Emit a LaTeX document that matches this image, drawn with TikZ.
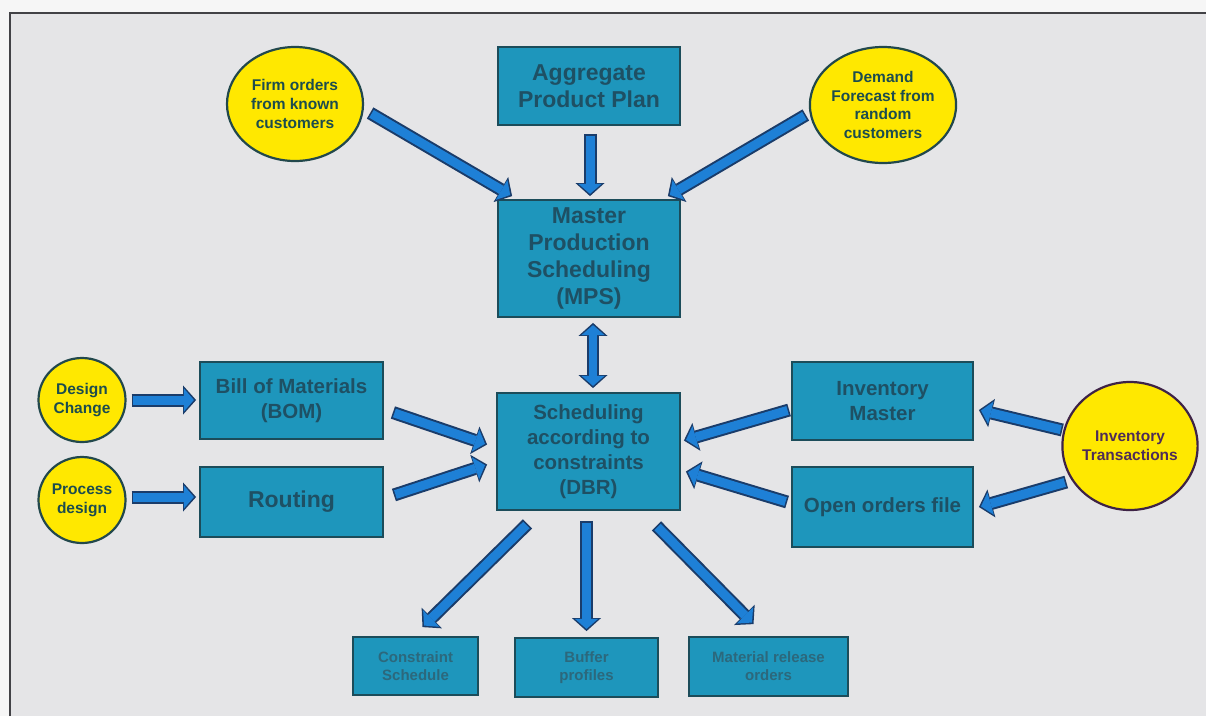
\documentclass[tikz,border=0pt]{standalone}
\usepackage{fontspec}
\setmainfont{Liberation Sans}
\usetikzlibrary{arrows.meta,calc,shapes.geometric}

\definecolor{pagebg}{RGB}{246,246,246}
\definecolor{panelbg}{RGB}{229,229,231}
\definecolor{framec}{RGB}{66,66,70}
\definecolor{boxfill}{RGB}{30,150,188}
\definecolor{boxedge}{RGB}{28,76,90}
\definecolor{boxtext}{RGB}{30,80,100}
\definecolor{smalltext}{RGB}{44,104,124}
\definecolor{discfill}{RGB}{255,232,0}
\definecolor{discedge}{RGB}{34,72,76}
\definecolor{disctext}{RGB}{28,76,78}
\definecolor{invtext}{RGB}{78,44,88}
\definecolor{arrowfill}{RGB}{30,128,214}
\definecolor{arrowedge}{RGB}{26,60,106}

\tikzset{
  OutTip/.tip={Triangle[length=13pt,width=29pt,line width=0pt 0 0]},
  InTip/.tip={Triangle[length=10pt,width=23pt,line width=0pt 0 0]},
  box/.style={rectangle, draw=boxedge, line width=1.8pt, fill=boxfill,
    align=center, text=boxtext, inner sep=0pt,
    font=\bfseries\fontsize{23}{27}\selectfont},
  midbox/.style={box, font=\bfseries\fontsize{20.5}{25}\selectfont},
  smallbox/.style={box, text=smalltext, font=\bfseries\fontsize{15}{18}\selectfont},
  disc/.style={ellipse, draw=discedge, line width=2.2pt, fill=discfill,
    align=center, text=disctext, inner sep=0pt,
    font=\bfseries\fontsize{15.5}{18.7}\selectfont},
  fat/.style={draw=arrowfill, line width=9pt, line cap=butt, -{InTip},
    shorten <=1.6pt, shorten >=2.2pt,
    preaction={draw=arrowedge, line width=13pt, -{OutTip},
      shorten <=0pt, shorten >=0pt}},
  fatboth/.style={draw=arrowfill, line width=8pt, line cap=butt, {InTip}-{InTip},
    shorten <=2.2pt, shorten >=2.2pt,
    preaction={draw=arrowedge, line width=12pt, {OutTip}-{OutTip},
      shorten <=0pt, shorten >=0pt}}
}

\begin{document}
\begin{tikzpicture}[x=1pt,y=-1pt]
  \useasboundingbox (0,0) rectangle (1206,716);
  % page and framed panel
  \fill[pagebg] (0,0) rectangle (1206,716);
  \fill[panelbg] (10,13) rectangle (1206,716);
  \draw[framec, line width=2pt] (10,716) -- (10,13) -- (1206,13);

  % planning inputs
  \node[disc, minimum width=136pt, minimum height=114pt] (firm) at (295,104)
    {Firm orders\\from known\\customers};
  \node[disc, minimum width=137pt, minimum height=116pt] (demand) at (883,105)
    {Demand\\Forecast from\\random\\customers};
  \node[box, minimum width=182pt, minimum height=78pt] (app) at (589,86)
    {Aggregate\\Product Plan};
  \node[box, minimum width=182pt, minimum height=117pt] (mps) at (589,258.5)
    {Master\\Production\\Scheduling\\(MPS)};

  % scheduling core
  \node[midbox, minimum width=183pt, minimum height=117pt] (dbr) at (588.5,451.5)
    {Scheduling\\according to\\constraints\\(DBR)};

  % left side
  \node[disc, minimum width=87pt, minimum height=84pt] (design) at (82,400)
    {Design\\Change};
  \node[disc, minimum width=87pt, minimum height=86pt] (process) at (82,500)
    {Process\\design};
  \node[midbox, minimum width=183pt, minimum height=77pt] (bom) at (291.5,400.5)
    {Bill of Materials\\(BOM)};
  \node[box, minimum width=183pt, minimum height=70pt] (rout) at (291.5,502)
    {Routing};

  % right side
  \node[midbox, minimum width=181pt, minimum height=78pt] (invm) at (882.5,401)
    {Inventory\\Master};
  \node[midbox, minimum width=181pt, minimum height=80pt] (open) at (882.5,507)
    {Open orders file};
  \node[disc, text=invtext, draw=invtext!80!black, minimum width=126pt, minimum height=128pt] (invt) at (1130,446)
    {Inventory\\Transactions};

  % outputs
  \node[smallbox, minimum width=125pt, minimum height=58pt] (cs) at (415.5,666)
    {Constraint\\Schedule};
  \node[smallbox, minimum width=143pt, minimum height=59pt] (buf) at (586.5,667.5)
    {Buffer\\profiles};
  \node[smallbox, minimum width=159pt, minimum height=59pt] (mro) at (768.5,666.5)
    {Material release\\orders};

  % flows into MPS
  \draw[fat] ($(firm.east)+(6,9)$) -- ($(mps.north west)+(15,-3)$);
  \draw[fat] ($(demand.west)+(-3,10)$) -- ($(mps.north east)+(-13,-3)$);
  \draw[fat] ($(app.south)+(1,8)$) -- ($(mps.north)+(1,-3)$);
  \draw[fatboth] ($(mps.south)+(4,5)$) -- ($(dbr.north)+(4.5,-4)$);

  % left flows
  \draw[fat] ($(design.east)+(5,0)$) -- ($(bom.west)+(-3,-0.5)$);
  \draw[fat] ($(process.east)+(5,-3)$) -- ($(rout.west)+(-3,-5)$);
  \draw[fat] ($(bom.east)+(9,12)$) -- ($(dbr.west)+(-9,-7)$);
  \draw[fat] ($(rout.east)+(10,-7)$) -- ($(dbr.west)+(-9,13)$);

  % right flows
  \draw[fat] ($(invm.west)+(-2,9)$) -- ($(dbr.east)+(3,-11)$);
  \draw[fat] ($(open.west)+(-4,-5)$) -- ($(dbr.east)+(5,20)$);
  \draw[fat] ($(invt.west)+(1,-16)$) -- ($(invm.east)+(5,9)$);
  \draw[fat] ($(invt.west)+(5,36)$) -- ($(open.east)+(5,0)$);

  % outputs of DBR
  \draw[fat] ($(dbr.south)+(-61,13)$) -- ($(cs.north)+(7,-9)$);
  \draw[fat] ($(dbr.south)+(-2,10)$) -- ($(buf.north)+(0,-6)$);
  \draw[fat] ($(dbr.south)+(68,15)$) -- ($(mro.north)+(-15,-12)$);
\end{tikzpicture}
\end{document}
